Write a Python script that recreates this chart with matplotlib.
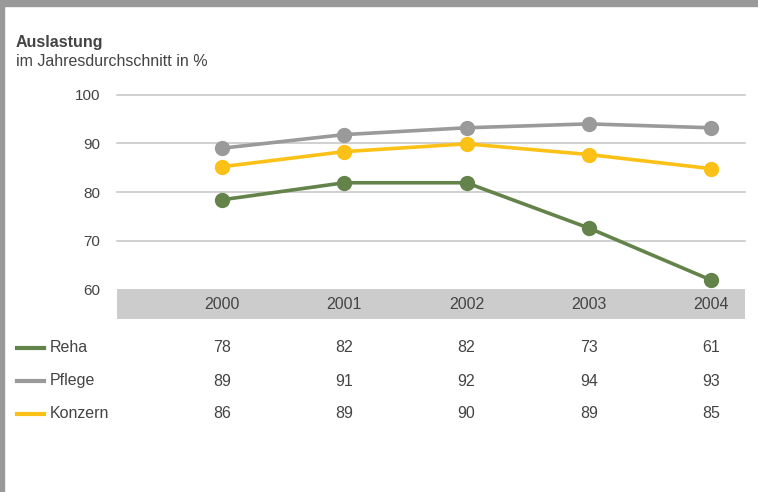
import matplotlib
matplotlib.use("Agg")
import matplotlib.pyplot as plt
from matplotlib.lines import Line2D
from matplotlib.patches import Rectangle
from matplotlib.transforms import blended_transform_factory

plt.rcParams["font.family"] = ["Liberation Sans", "DejaVu Sans"]

years = ["2000", "2001", "2002", "2003", "2004"]
series = ["Reha", "Pflege", "Konzern"]
# positions of the points as drawn in the chart
reha_plot = [78.4, 81.9, 81.9, 72.6, 61.9]
pflege_plot = [89.0, 91.8, 93.2, 94.0, 93.2]
konzern_plot = [85.2, 88.3, 89.9, 87.7, 84.8]
# values printed in the table
reha_tab = [78, 82, 82, 73, 61]
pflege_tab = [89, 91, 92, 94, 93]
konzern_tab = [86, 89, 90, 89, 85]
yticks = [60, 70, 80, 90, 100]

colors = {"Reha": "#64834a", "Pflege": "#9a9a9a", "Konzern": "#fcc116"}
TXT = "#444444"
FS = 11.5
W, H = 758, 492

fig = plt.figure(figsize=(W / 100, H / 100), dpi=100)

# frame: grey bars on top and left
fig.patches.append(Rectangle((0, 1 - 6 / H), 1, 6 / H, transform=fig.transFigure,
                             color="#999999", zorder=0))
fig.patches.append(Rectangle((0, 0), 4 / W, 1, transform=fig.transFigure,
                             color="#999999", zorder=0))

fig.text(16 / W, 1 - 43 / H, "Auslastung", fontsize=FS, fontweight="bold",
         color=TXT, va="center")
fig.text(16 / W, 1 - 61 / H, "im Jahresdurchschnitt in %", fontsize=FS,
         color=TXT, va="center")

# axes from grid top (y=94.7px) to bottom of year band (y=319px)
top, bottom = 94.7, 319.0
left, right = 117, 745
ax = fig.add_axes([left / W, 1 - bottom / H, (right - left) / W, (bottom - top) / H])
px_per_unit = (289.3 - 94.7) / 40
ymin = 60 - (bottom - 289.3) / px_per_unit
ax.set_ylim(ymin, 100)
xstep = (711 - 222) / 4
ax.set_xlim(-(222 - left) / xstep, 4 + (right - 711) / xstep)

for s in ax.spines.values():
    s.set_visible(False)
ax.set_xticks([])
ax.set_yticks(yticks)
ax.set_yticklabels([str(v) for v in yticks], fontsize=11, color=TXT)
ax.tick_params(axis="y", length=0, pad=12)
for v in yticks[1:]:
    ax.axhline(v, color="#c8c8c8", lw=1.2, zorder=1, clip_on=False)
ax.axhspan(ymin, 60, color="#cccccc", zorder=1, lw=0)

x = range(len(years))
for name, vals in [("Pflege", pflege_plot), ("Konzern", konzern_plot), ("Reha", reha_plot)]:
    ax.plot(x, vals, color=colors[name], lw=2.6, marker="o", markersize=10,
            zorder=3, clip_on=False)

for i, yr in enumerate(years):
    ax.text(i, (ymin + 60) / 2, yr, ha="center", va="center", fontsize=FS, color=TXT)

# table below
tr = blended_transform_factory(ax.transData, fig.transFigure)
rows = [("Reha", reha_tab, 348), ("Pflege", pflege_tab, 381), ("Konzern", konzern_tab, 414)]
for name, vals, ypx in rows:
    yf = 1 - ypx / H
    fig.lines.append(Line2D([17 / W, 44 / W], [yf, yf], transform=fig.transFigure,
                            color=colors[name], lw=3))
    fig.text(50 / W, yf, name, fontsize=FS, color=TXT, va="center")
    for i, v in enumerate(vals):
        fig.text(i, yf, str(v), transform=tr, ha="center", va="center",
                 fontsize=FS, color=TXT)

fig.savefig("out.png", dpi=100)
